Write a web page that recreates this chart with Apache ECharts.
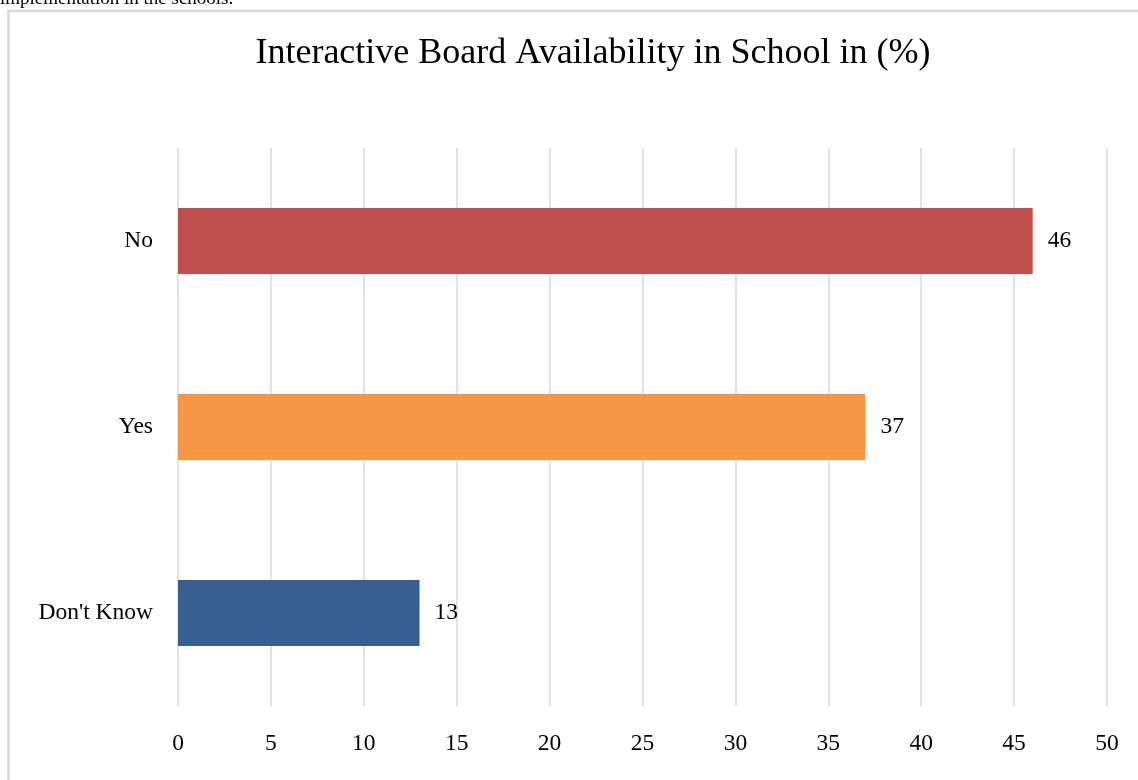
<!DOCTYPE html>
<html>
<head>
<meta charset="utf-8">
<style>
  html, body { margin: 0; padding: 0; background: #ffffff; }
  #chart { width: 1138px; height: 780px; }
</style>
<script src="https://cdn.jsdelivr.net/npm/echarts@6/dist/echarts.min.js"></script>
</head>
<body>
<div id="chart"></div>
<script>
// Survey responses: interactive board availability (%)
const categories = ["Don't Know", "Yes", "No"];
const values = [13, 37, 46];
const barColors = ['#375F91', '#F79646', '#C0504D'];
const xTicks = [0, 5, 10, 15, 20, 25, 30, 35, 40, 45, 50];

const chart = echarts.init(document.getElementById('chart'));
const font = '"Liberation Serif", "Times New Roman", serif';

chart.setOption({
  animation: false,
  backgroundColor: '#ffffff',
  title: {
    text: 'Interactive Board Availability in School in (%)',
    left: 588,
    top: 31,
    textAlign: 'center',
    textStyle: { fontFamily: font, fontSize: 36, fontWeight: 'normal', color: '#000000' }
  },
  graphic: [
    {
      type: 'text',
      left: 0,
      top: -10,
      style: {
        text: 'implementation in the schools.',
        font: '19px ' + font,
        fill: '#000000'
      }
    },
    {
      type: 'rect',
      shape: { x: 8.5, y: 11, width: 1300, height: 900 },
      style: { fill: 'none', stroke: '#D9D9D9', lineWidth: 2.5 },
      silent: true
    }
  ],
  grid: { left: 178, right: 31, top: 148, bottom: 74, containLabel: false },
  xAxis: {
    type: 'value',
    min: xTicks[0],
    max: xTicks[xTicks.length - 1],
    interval: 5,
    axisLine: { show: false },
    axisTick: { show: false },
    splitLine: { show: true, lineStyle: { color: '#D9D9D9', width: 1.5 } },
    axisLabel: {
      margin: 26,
      fontFamily: font,
      fontSize: 23.5,
      color: '#000000',
      formatter: v => (xTicks.includes(v) ? String(v) : '')
    }
  },
  yAxis: {
    type: 'category',
    data: categories,
    axisLine: { show: false },
    axisTick: { show: false },
    axisLabel: { margin: 25, fontFamily: font, fontSize: 23.5, color: '#000000' }
  },
  series: [{
    type: 'bar',
    barWidth: 66,
    data: values.map((v, i) => ({ value: v, itemStyle: { color: barColors[i] } })),
    label: {
      show: true,
      position: 'right',
      distance: 15,
      fontFamily: font,
      fontSize: 23.5,
      color: '#000000'
    }
  }]
});
</script>
</body>
</html>
